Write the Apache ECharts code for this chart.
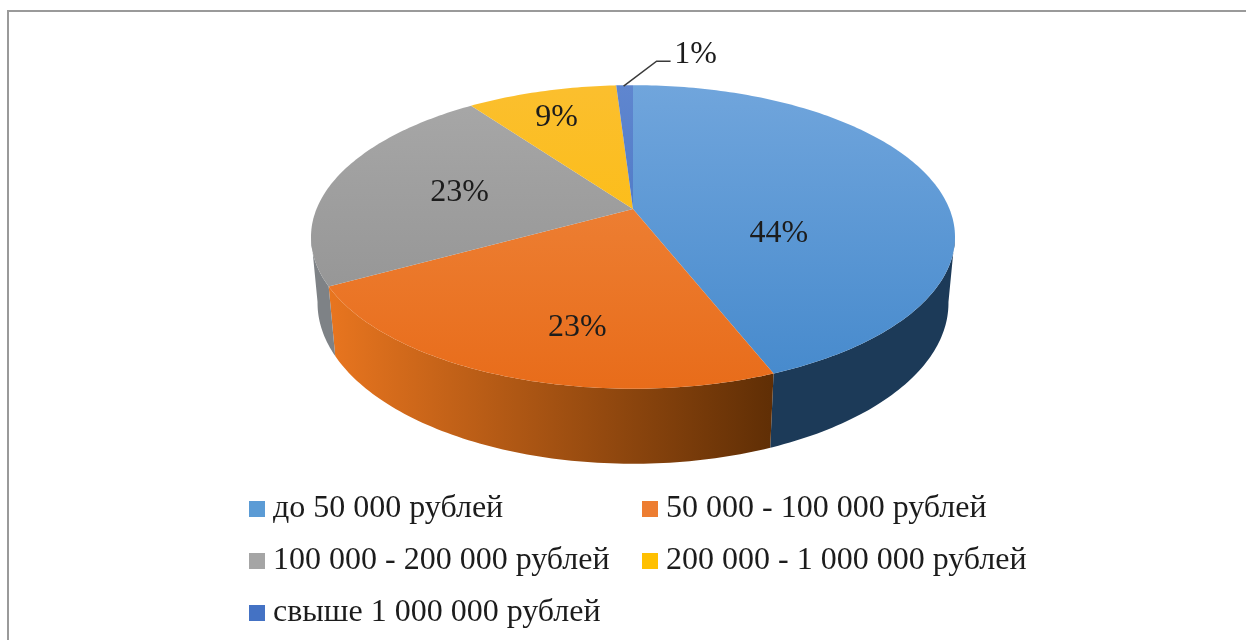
<!DOCTYPE html>
<html><head><meta charset="utf-8">
<style>html,body{margin:0;padding:0;background:#fff}#c{width:1246px;height:640px;filter:blur(0.5px)}</style>
<script src="https://cdn.jsdelivr.net/npm/echarts@6/dist/echarts.min.js"></script>
</head><body><div id="c"></div>
<script>
var categories = ['до 50 000 рублей','50 000 - 100 000 рублей','100 000 - 200 000 рублей','200 000 - 1 000 000 рублей','свыше 1 000 000 рублей'];
var shares = [44,23,23,9,1];
var legendColors = ['#5b9bd5','#ed7d31','#a5a5a5','#ffc000','#4472c4'];
var topFar = ['#70a5dc','#f08a42','#a8a8a8','#fbbf2e','#5f86cf'];
var topNear = ['#4589cc','#e86c1a','#8e8e8e','#fdbb00','#3f6dbe'];
var wallLeft = ['#19364f','#e8751f','#7e8286','#7e8286','#4472c4'];
var wallRight = ['#1c3a58','#5f2e05','#7e8286','#7e8286','#4472c4'];
var labelNudge = [[-7,38],[3,43],[-22,-1],[-27,-28],null];

// perspective of the disc on the page
var cx=633, apexY=209, persp=-0.184, spreadX=316.5, spreadY=108.2, wallW=0.02, wallH=70.5;
function proj(deg,r,low){
  var a=deg*Math.PI/180, s=Math.sin(a)*r, t=-Math.cos(a)*r;
  var w=1+persp*t+(low?wallW:0);
  return [cx+spreadX*s/w,(spreadY*t+apexY+(low?wallH:0))/w];
}
var total=shares.reduce(function(a,b){return a+b},0);
function startDeg(i){var c=0;for(var k=0;k<i;k++)c+=shares[k];return c/total*360;}

function renderItem(params,api){
  var i=params.seriesIndex, v=api.value(0);
  var a0=startDeg(i), a1=a0+v/total*360, kids=[];
  // side wall: only the part facing the viewer
  var w0=Math.max(a0,100), w1=Math.min(a1,260);
  if(w1>w0){
    var up=[],dn=[];
    for(var d=w0;;d+=1){var q=Math.min(d,w1);up.push(proj(q,1,false));dn.unshift(proj(q,1,true));if(q>=w1)break;}
    kids.push({type:'polygon',shape:{points:up.concat(dn)},style:{fill:{type:'linear',x:w0===100?620:330,y:0,x2:775,y2:0,global:true,
      colorStops:[{offset:0,color:wallLeft[i]},{offset:1,color:wallRight[i]}]}}});
  }
  var pts=[proj(0,0,false)];
  for(var e=a0;;e+=1){var p=Math.min(e,a1);pts.push(proj(p,1,false));if(p>=a1)break;}
  kids.push({type:'polygon',shape:{points:pts},style:{fill:{type:'linear',x:0,y:86,x2:0,y2:390,global:true,
    colorStops:[{offset:0,color:topFar[i]},{offset:1,color:topNear[i]}]}}});
  var mid=(a0+a1)/2, txt=Math.round(v)+'%', font='32px "Liberation Serif"';
  if(labelNudge[i]){
    var m=proj(mid,0.5,false);
    kids.push({type:'text',z2:10,style:{x:m[0]+labelNudge[i][0],y:m[1]+labelNudge[i][1],text:txt,font:font,fill:'#1c1c1c',align:'center',verticalAlign:'middle'}});
  }else{
    var r=proj(mid,1,false);
    kids.push({type:'polyline',z2:10,shape:{points:[[r[0]-1,r[1]+1],[r[0]+32,r[1]-24],[r[0]+46,r[1]-24]]},style:{stroke:'#3a3a3a',lineWidth:1.5,fill:null}});
    kids.push({type:'text',z2:10,style:{x:r[0]+71,y:r[1]-31,text:txt,font:font,fill:'#1c1c1c',align:'center',verticalAlign:'middle'}});
  }
  return {type:'group',children:kids};
}

var legendText={fontFamily:'Liberation Serif',fontSize:32,color:'#1c1c1c',lineHeight:32,padding:[0,0,0,3]};
function legendAt(left,names){
  return {show:true,orient:'vertical',left:left,top:493,padding:0,itemWidth:16,itemHeight:16,itemGap:20,icon:'rect',
    selectedMode:false,textStyle:legendText,data:names};
}
var chart=echarts.init(document.getElementById('c'),null,{renderer:'canvas'});
chart.setOption({
  animation:false,
  backgroundColor:'#fff',
  legend:[legendAt(249,[categories[0],categories[2],categories[4]]),legendAt(642,[categories[1],categories[3]])],
  graphic:[
    {type:'line',shape:{x1:8,y1:11,x2:1246,y2:11},style:{stroke:'#9a9a9a',lineWidth:2}},
    {type:'line',shape:{x1:8,y1:10,x2:8,y2:640},style:{stroke:'#9a9a9a',lineWidth:2}}
  ],
  series:categories.map(function(n,i){
    return {type:'custom',name:n,coordinateSystem:'none',renderItem:renderItem,silent:true,
      itemStyle:{color:legendColors[i]},data:[[shares[i]]]};
  })
});
</script></body></html>
